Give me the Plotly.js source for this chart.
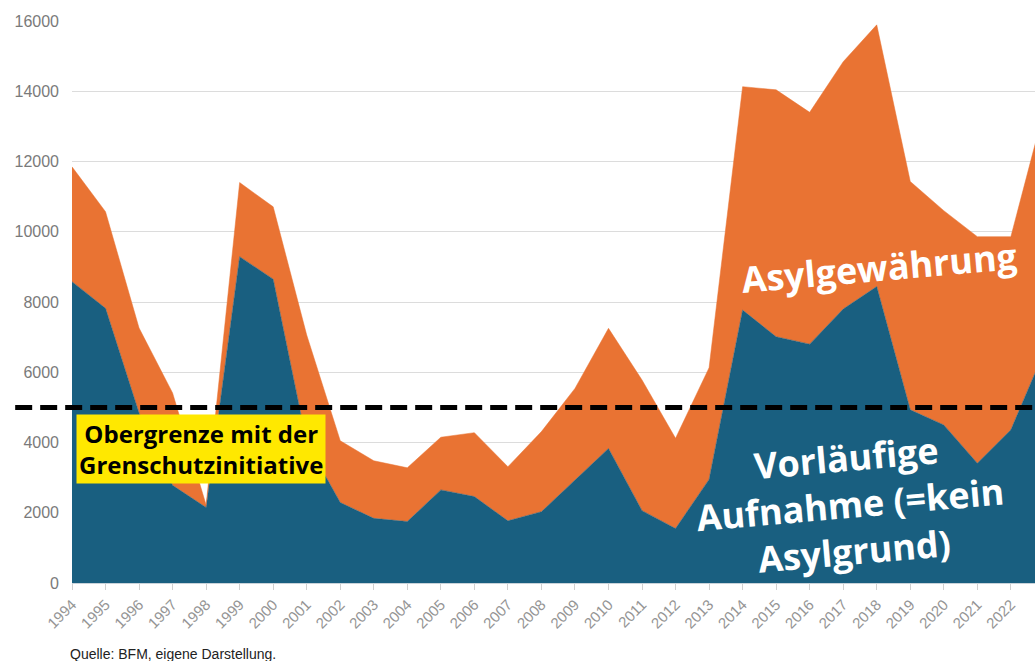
<!DOCTYPE html>
<html>
<head>
<meta charset="utf-8">
<script src="https://cdn.plot.ly/plotly-3.0.1.min.js"></script>
<style>
  html, body { margin: 0; padding: 0; background: #fff; }
  #chart { width: 1035px; height: 661px; }
</style>
</head>
<body>
<div id="chart"></div>
<script>
// Jahre und Werte
var years = [1994, 1995, 1996, 1997, 1998, 1999, 2000, 2001, 2002, 2003,
             2004, 2005, 2006, 2007, 2008, 2009, 2010, 2011, 2012, 2013,
             2014, 2015, 2016, 2017, 2018, 2019, 2020, 2021, 2022, 2023];

// vorläufige Aufnahme (unten, blau)
var vorlaeufig = [8580, 7820, 4840, 2780, 2150, 9290, 8650, 4000, 2290, 1840,
                  1750, 2650, 2460, 1770, 2030, 2930, 3830, 2060, 1550, 2950,
                  7770, 7010, 6800, 7800, 8440, 4930, 4500, 3410, 4360, 6600];

// Asylgewährung (oben, orange)
var asyl = [3270, 2750, 2420, 2630, 70, 2110, 2060, 3060, 1760, 1640,
            1530, 1500, 1820, 1540, 2280, 2610, 3420, 3720, 2570, 3180,
            6360, 7030, 6600, 7040, 7450, 6500, 6100, 6450, 5500, 6900];

var obergrenze = 5000;
var yTicks = [0, 2000, 4000, 6000, 8000, 10000, 12000, 14000, 16000];

var blau = '#195f80';
var orange = '#e97333';

var traceVorl = {
  x: years,
  y: vorlaeufig,
  type: 'scatter',
  mode: 'lines',
  stackgroup: 'one',
  name: 'Vorläufige Aufnahme',
  line: { width: 0.5, color: blau },
  fillcolor: blau
};
var traceAsyl = {
  x: years,
  y: asyl,
  type: 'scatter',
  mode: 'lines',
  stackgroup: 'one',
  name: 'Asylgewährung',
  line: { width: 0.5, color: orange },
  fillcolor: orange
};

var layout = {
  width: 1035,
  height: 661,
  margin: { l: 72, r: 0, t: 21, b: 78 },
  paper_bgcolor: '#fff',
  plot_bgcolor: '#fff',
  showlegend: false,
  font: { family: 'Liberation Sans, Arial, sans-serif' },
  xaxis: {
    range: [1994, 2022.72],
    tickvals: years,
    ticktext: years.map(String),
    tickangle: -45,
    tickfont: { size: 15, color: '#959595' },
    showgrid: false,
    zeroline: false,
    showline: true,
    linecolor: '#c9d3da',
    linewidth: 1,
    ticks: 'outside',
    ticklen: 6,
    tickcolor: '#d0d0d0',
    fixedrange: true
  },
  yaxis: {
    range: [0, 16000],
    tickvals: yTicks,
    ticktext: yTicks.map(String),
    tickfont: { size: 16, color: '#7a7a7a' },
    showgrid: true,
    gridcolor: '#dcdcdc',
    gridwidth: 1,
    zeroline: false,
    showline: false,
    ticklabelstandoff: 12,
    fixedrange: true
  },
  shapes: [{
    type: 'line',
    xref: 'paper', yref: 'y',
    x0: -0.059, x1: 1,
    y0: obergrenze, y1: obergrenze,
    line: { color: '#000', width: 5, dash: '17px,8px' },
    layer: 'above'
  }],
  annotations: [
    {
      xref: 'paper', yref: 'paper',
      x: 0.134, y: 0.238,
      xanchor: 'center', yanchor: 'middle',
      text: '<b>Obergrenze mit der<br>Grenschutzinitiative</b>',
      showarrow: false,
      font: { family: 'Open Sans', size: 24, color: '#000' },
      bgcolor: '#ffe800',
      borderpad: 2,
      align: 'center'
    },
    {
      xref: 'paper', yref: 'paper',
      x: 0.838, y: 0.562,
      xanchor: 'center', yanchor: 'middle',
      text: '<b>Asylgewährung</b>',
      showarrow: false,
      textangle: -5,
      font: { family: 'Open Sans', size: 36, color: '#fff' }
    },
    {
      xref: 'paper', yref: 'paper',
      x: 0.808, y: 0.139,
      xanchor: 'center', yanchor: 'middle',
      text: '<b>Vorläufige<br>Aufnahme (=kein<br>Asylgrund)</b>',
      showarrow: false,
      textangle: -5,
      align: 'center',
      font: { family: 'Open Sans', size: 36, color: '#fff' }
    },
    {
      xref: 'paper', yref: 'paper',
      x: -0.004, y: -0.126,
      xanchor: 'left', yanchor: 'middle',
      text: 'Quelle: BFM, eigene Darstellung.',
      showarrow: false,
      font: { size: 14, color: '#222' }
    }
  ]
};

Plotly.newPlot('chart', [traceVorl, traceAsyl], layout, { displayModeBar: false, staticPlot: true });
</script>
</body>
</html>
